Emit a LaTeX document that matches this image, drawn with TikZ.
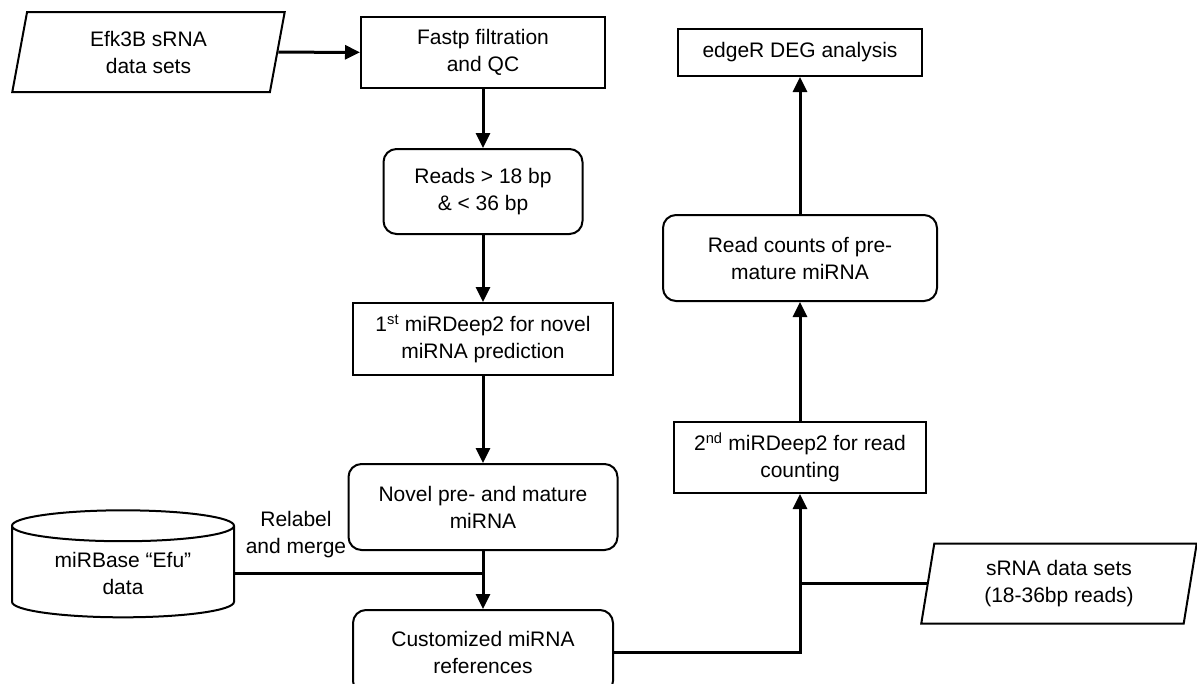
\documentclass[tikz,border=0pt]{standalone}
\usepackage{fontspec}
\setmainfont{Liberation Sans}
\usetikzlibrary{shapes.geometric,arrows.meta,positioning}
\usepackage{xcolor}

\begin{document}
\begin{tikzpicture}[
  x=1pt, y=-1pt,
  font=\fontsize{21}{27}\selectfont,
  box/.style={draw, line width=2pt, align=center, inner sep=2pt},
  roundbox/.style={box, rounded corners=13pt},
  dataset/.style={box, trapezium, trapezium left angle=81, trapezium right angle=99,
    trapezium stretches=true, minimum height=80pt},
  store/.style={box, cylinder, shape border rotate=90, aspect=0.22,
    minimum width=222pt, minimum height=107pt},
  arrow/.style={line width=3pt, -{Triangle[length=15pt,width=14pt]}},
  link/.style={line width=3pt}
]
\useasboundingbox (0,0) rectangle (1197,683);

% left column
\node[box, minimum width=244pt, minimum height=71pt] (fastp) at (483,52.5) {Fastp filtration\\and QC};
\node[roundbox, minimum width=199pt, minimum height=85pt, below=59pt of fastp] (reads) {Reads > 18 bp\\\& < 36 bp};
\node[box, minimum width=260pt, minimum height=72pt, below=67pt of reads] (mirdeepA) {1\textsuperscript{st} miRDeep2 for novel\\miRNA prediction};
\node[roundbox, minimum width=269pt, minimum height=86pt, below=87pt of mirdeepA] (novel) {Novel pre- and mature\\miRNA};
\node[roundbox, minimum width=260pt, minimum height=84pt, below=58pt of novel] (custom) {Customized miRNA\\references};

% inputs
\node[dataset, minimum width=273pt] (efk) at (148.5,52) {Efk3B sRNA\\data sets};
\node[store] (mirbase) at (123,573.5) {miRBase “Efu”\\data};
\node[align=center] (relabel) at (296,535) {Relabel\\and merge};
\node[dataset, minimum width=276pt] (srna) at (1059,583.5) {sRNA data sets\\(18-36bp reads)};

% right column
\node[box, minimum width=244pt, minimum height=47pt] (edger) at (800,52.5) {edgeR DEG analysis};
\node[roundbox, minimum width=274pt, minimum height=86pt, below=137pt of edger] (counts) {Read counts of pre-\\mature miRNA};
\node[box, minimum width=252pt, minimum height=71pt, below=119pt of counts] (mirdeepB) {2\textsuperscript{nd} miRDeep2 for read\\counting};

\draw[arrow] (efk) -- (fastp);
\draw[arrow] (fastp) -- (reads);
\draw[arrow] (reads) -- (mirdeepA);
\draw[arrow] (mirdeepA) -- (novel);
\draw[arrow] (novel) -- (custom);
\draw[link] (mirbase.east) -- (mirbase.east -| novel.south);
\draw[arrow] (custom.east) -| (mirdeepB.south);
\draw[link] (srna.west) -- (srna.west -| mirdeepB.south);
\draw[arrow] (mirdeepB) -- (counts);
\draw[arrow] (counts) -- (edger);
\end{tikzpicture}
\end{document}
